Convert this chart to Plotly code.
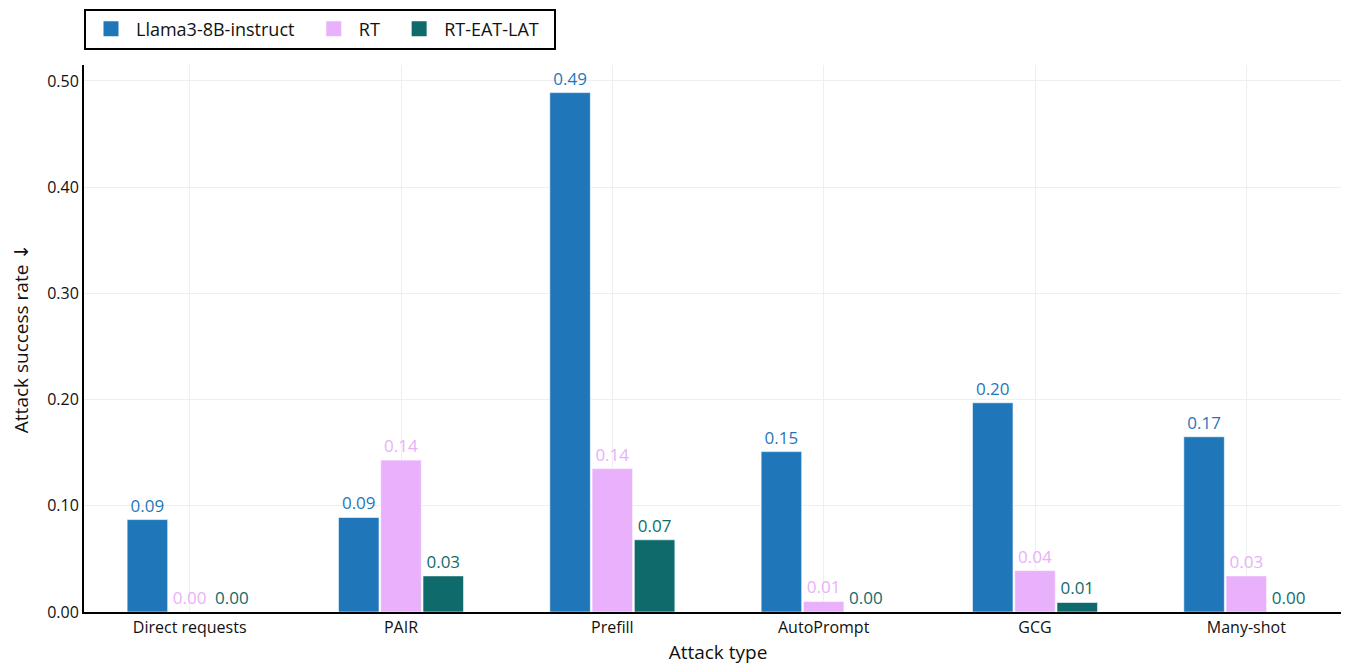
import plotly.graph_objects as go

categories = ["Direct requests", "PAIR", "Prefill", "AutoPrompt", "GCG", "Many-shot"]
llama = [0.087, 0.089, 0.489, 0.151, 0.197, 0.165]
rt = [0.0, 0.143, 0.135, 0.010, 0.039, 0.034]
rt_eat_lat = [0.0, 0.034, 0.068, 0.0, 0.009, 0.0]
series_names = ["Llama3-8B-instruct", "RT", "RT-EAT-LAT"]
colors = ["#1f77ba", "#e9b0fb", "#0f6b6b"]

FONT = "Open Sans"

fig = go.Figure()
for name, vals, col in zip(series_names, [llama, rt, rt_eat_lat], colors):
    fig.add_trace(go.Bar(
        x=categories, y=vals, name=name, showlegend=False,
        marker=dict(color=col, line=dict(color="rgba(255,255,255,0.6)", width=1)),
        text=[f"{v:.2f}" for v in vals], textposition="outside",
        textfont=dict(color=col, size=17, family=FONT),
        cliponaxis=False,
    ))
# legend entries with larger square symbols
for name, col in zip(series_names, colors):
    fig.add_trace(go.Scatter(
        x=[None], y=[None], mode="markers", name=name + "  ",
        marker=dict(symbol="square", size=15, color=col),
    ))

fig.update_layout(
    width=1349, height=668,
    margin=dict(l=76, r=5, t=57, b=64, autoexpand=False),
    paper_bgcolor="white", plot_bgcolor="white",
    barmode="group", bargap=0.4, bargroupgap=0.04,
    font=dict(family=FONT, size=16, color="#111"),
    legend=dict(orientation="h", x=0, y=1.103, xanchor="left", yanchor="top",
                bordercolor="black", borderwidth=2, bgcolor="white",
                font=dict(size=18), itemwidth=40),
    xaxis=dict(title=dict(text="Attack type", standoff=8), showline=True,
               linecolor="black", linewidth=2, showgrid=True, gridcolor="#efefef",
               ticks="", tickfont=dict(size=16), automargin=False),
    yaxis=dict(title=dict(text="Attack success rate <span style='font-family:DejaVu Sans'>↓</span>",
                          standoff=14), range=[0, 0.515],
               tickvals=[0, 0.1, 0.2, 0.3, 0.4, 0.5], tickformat=".2f",
               showline=True, linecolor="black", linewidth=2, showgrid=True,
               gridcolor="#efefef", zeroline=False, ticks="", tickfont=dict(size=16),
               automargin=False),
)
fig.write_html("out.html")
